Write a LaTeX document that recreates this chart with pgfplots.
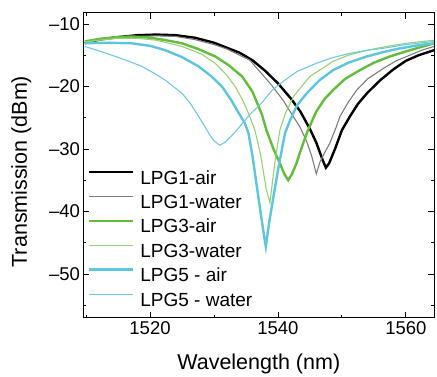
\documentclass[border=0pt]{standalone}
\usepackage{pgfplots}
\pgfplotsset{compat=1.18}
\usepackage{fontspec}
\setmainfont{Liberation Sans}
\definecolor{cgray}{RGB}{125,125,125}
\definecolor{cgreen}{RGB}{98,190,58}
\definecolor{clgreen}{RGB}{150,210,115}
\definecolor{ccyan}{RGB}{92,198,222}
\definecolor{clcyan}{RGB}{110,202,226}
\begin{document}
\begin{tikzpicture}
\useasboundingbox (-83.5pt,-58.3pt) rectangle (353.5pt,317.7pt);
\begin{axis}[
  at={(0,0)}, anchor=south west,
  width=350.5pt, height=305pt, scale only axis,
  xmin=1509.6, xmax=1564.4, ymin=-57, ymax=-8.2,
  xtick={1520,1540,1560}, minor xtick={1510,1530,1550},
  ytick={-50,-40,-30,-20,-10}, minor ytick={-55,-45,-35,-25,-15},
  yticklabels={--50,--40,--30,--20,--10},
  tick align=inside,
  major tick length=6pt, minor tick length=3pt,
  every tick/.style={black, line width=0.8pt},
  axis line style={line width=0.9pt},
  /pgf/number format/assume math mode=true,
  /pgf/number format/1000 sep={},
  tick label style={font=\fontsize{18.5}{20}\selectfont},
  xlabel={Wavelength (nm)},
  ylabel={Transmission (dBm)},
  every axis x label/.style={at={(axis description cs:0.5,-0.1705)}, anchor=base, font=\fontsize{21.5}{24}\selectfont},
  every axis y label/.style={at={(axis description cs:-0.1612,0.479)}, rotate=90, anchor=base, font=\fontsize{21.5}{24}\selectfont},
  legend style={at={(axis description cs:0.0128,0.484)}, anchor=north west,
    draw=none, fill=none, inner sep=0pt, outer sep=0pt,
    font=\fontsize{19}{22}\selectfont,
    nodes={inner sep=0pt, text height=14pt, text depth=4pt},
    row sep=6.4pt, column sep=6pt},
  legend cell align=left,
  legend image code/.code={\draw[#1] (0pt,7pt) -- (44pt,7pt);},
]
\addplot[black, line width=2.4pt] coordinates {
(1509.8,-13.1) (1512,-12.5) (1515,-12.1) (1518,-11.8) (1521,-11.7) (1524,-11.8)
(1527,-12.2) (1530,-13.0) (1532,-13.8) (1534,-14.6) (1536,-15.8) (1538,-17.5)
(1540,-19.5) (1542,-21.9) (1543.5,-24.0) (1545,-26.8) (1546,-29.0) (1547,-31.8)
(1547.5,-33.0) (1548,-32.3) (1549,-29.8) (1550,-27.0) (1551.25,-24.8) (1552.5,-22.8)
(1554,-21.0) (1556,-19.0) (1558,-17.3) (1560,-15.9) (1562,-15.0) (1564.4,-14.2)
};
\addlegendentry{LPG1-air}
\addplot[cgray, line width=1.1pt] coordinates {
(1509.8,-13.0) (1512,-12.6) (1515,-12.2) (1518,-12.0) (1521,-11.9) (1524,-12.0)
(1527,-12.5) (1530,-13.3) (1532,-14.0) (1534,-15.0) (1535.6,-15.8) (1537.5,-18.0)
(1539,-19.8) (1540.8,-22.2) (1542.2,-24.5) (1543.4,-26.4) (1544.5,-28.8) (1545.3,-31.2)
(1546.0,-34.0) (1546.6,-32.0) (1547.3,-30.6) (1548.1,-29.1) (1549,-26.8) (1549.7,-24.8)
(1551,-22.5) (1552.3,-20.6) (1554,-18.8) (1556.5,-17.1) (1558.5,-15.9) (1560.6,-15.0)
(1562.5,-14.2) (1564.4,-13.6)
};
\addlegendentry{LPG1-water}
\addplot[cgreen, line width=2.4pt] coordinates {
(1509.8,-12.8) (1512,-12.4) (1515,-12.1) (1517.2,-12.0) (1520,-12.2) (1522.5,-12.6)
(1525,-13.1) (1527.5,-14.0) (1530.2,-15.2) (1532.3,-16.6) (1534.4,-18.4) (1536,-20.8)
(1537.5,-24.5) (1538.2,-27.0) (1539.3,-30.0) (1540.3,-32.3) (1541,-34.0) (1541.6,-35.0)
(1542.2,-34.0) (1542.9,-32.3) (1543.8,-29.5) (1544.7,-27.0) (1546,-24.0) (1547.3,-22.0)
(1548.6,-20.6) (1550.5,-18.8) (1552.8,-17.4) (1555,-16.2) (1557.5,-15.2) (1560,-14.4)
(1562,-13.8) (1564.4,-13.1)
};
\addlegendentry{LPG3-air}
\addplot[clgreen, line width=1.1pt] coordinates {
(1509.8,-12.9) (1512,-12.6) (1515,-12.3) (1518,-12.3) (1521,-12.6) (1525,-13.6)
(1528,-14.8) (1530.2,-16.3) (1532,-18.2) (1533.3,-20.0) (1534.5,-22.2) (1535.4,-24.3)
(1536.4,-27.0) (1537.3,-31.0) (1538.2,-36.6) (1538.75,-38.6) (1539.5,-32.3) (1540.3,-27.0)
(1541.2,-24.2) (1542.5,-21.5) (1545,-18.4) (1548.6,-16.0) (1551,-15.0) (1554,-14.2)
(1557,-13.6) (1560,-13.1) (1564.4,-12.6)
};
\addlegendentry{LPG3-water}
\addplot[ccyan, line width=2.4pt] coordinates {
(1509.8,-13.1) (1513,-13.0) (1517.2,-13.1) (1520,-13.5) (1522.4,-14.2) (1525,-15.3)
(1527.6,-16.8) (1529.5,-18.3) (1531.25,-20.0) (1532.7,-22.2) (1533.9,-24.3) (1534.8,-25.8)
(1535.4,-27.5) (1536.0,-31.0) (1536.7,-36.0) (1537.2,-39.5) (1537.7,-43.0) (1538.1,-45.6)
(1538.6,-42.0) (1539.4,-37.0) (1540.2,-32.3) (1541.1,-27.5) (1541.9,-25.4) (1543,-23.0)
(1544.5,-21.1) (1546.5,-19.0) (1548.6,-17.4) (1551,-16.2) (1553.9,-15.2) (1556.5,-14.5)
(1559.1,-13.9) (1562,-13.4) (1564.4,-13.1)
};
\addlegendentry{LPG5 - air}
\addplot[clcyan, line width=1.1pt] coordinates {
(1509.8,-13.6) (1512,-14.3) (1514.6,-15.2) (1516.5,-15.9) (1518.75,-16.8) (1520.5,-17.8)
(1522.4,-19.0) (1524,-20.3) (1525,-21.1) (1526.3,-22.7) (1527.6,-24.8) (1528.5,-26.3)
(1529.2,-27.5) (1530,-28.7) (1530.9,-29.4) (1531.8,-28.9) (1533.3,-27.3) (1535.6,-24.5)
(1537.5,-22.6) (1539,-20.7) (1540.8,-19.2) (1543,-17.6) (1546.0,-16.3) (1548.5,-15.4)
(1551.25,-14.7) (1554,-14.2) (1556.4,-13.9) (1560,-13.3) (1564.4,-12.8)
};
\addlegendentry{LPG5 - water}
\end{axis}
\end{tikzpicture}
\end{document}
